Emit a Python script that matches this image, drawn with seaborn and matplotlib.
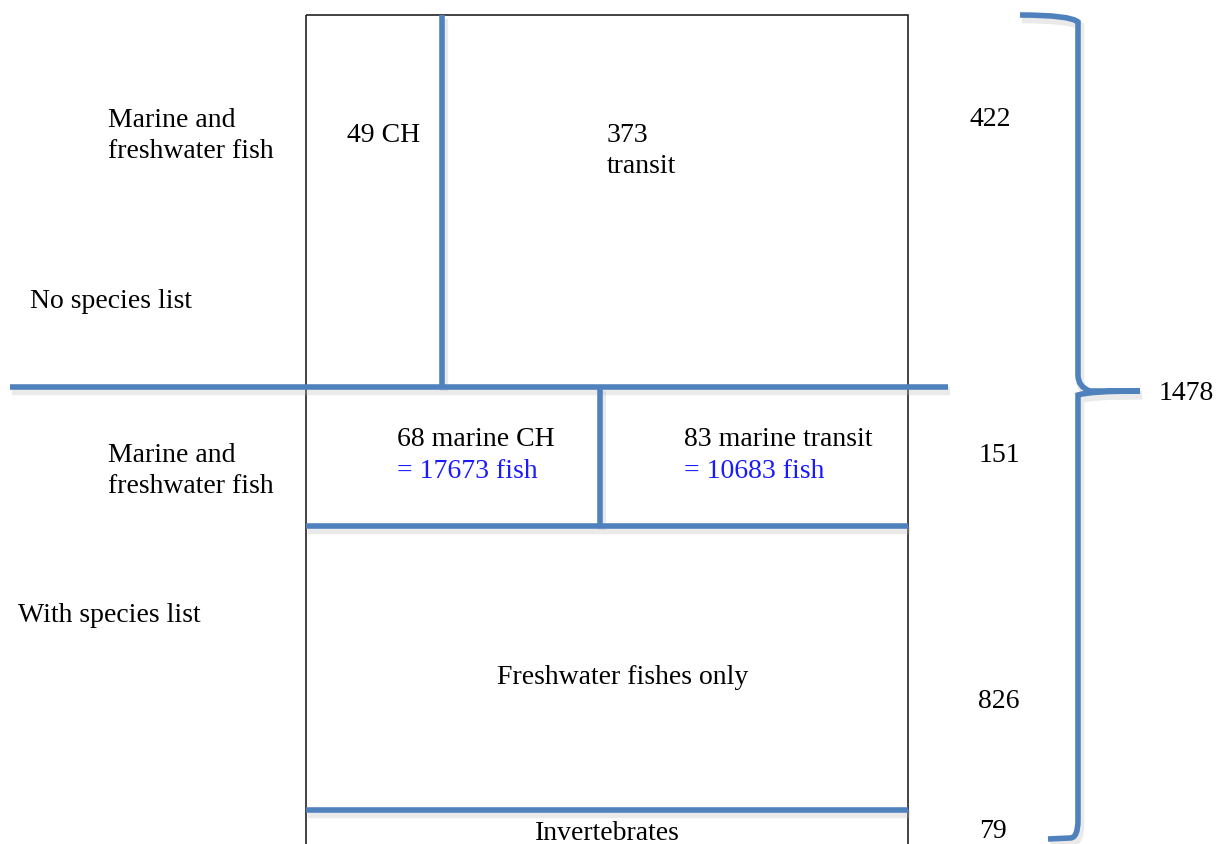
import matplotlib.pyplot as plt
import matplotlib.patheffects as pe
from matplotlib.path import Path
from matplotlib.patches import PathPatch, Rectangle
import seaborn as sns

# Data: counts per compartment
group_labels = ["No species list", "With species list"]
row_labels = ["Marine and\nfreshwater fish", "Marine and\nfreshwater fish"]
no_list_ch = 49
no_list_transit = 373
no_list_total = 422
marine_ch = 68
marine_transit = 83
marine_ch_fish = 17673
marine_transit_fish = 10683
marine_total = 151
freshwater_only = 826
invertebrates = 79
grand_total = 1478

sns.set_theme(style="white")
plt.rcParams['font.family'] = ['Liberation Serif', 'DejaVu Serif']

fig = plt.figure(figsize=(12.26, 8.44), dpi=100)
ax = fig.add_axes([0, 0, 1, 1])
ax.set_xlim(0, 1226)
ax.set_ylim(844, 0)
ax.axis('off')

blue = '#4F81BD'
shadow = [pe.SimpleLineShadow(offset=(1.5, -3), shadow_color='#bbbbbb', alpha=0.3, linewidth=6),
          pe.Normal()]
fs = 20

# outer box
ax.add_patch(Rectangle((306, 15), 602, 840, fill=False, edgecolor='#222222', lw=1.2))

def bar(x0, y0, x1, y1):
    ax.plot([x0, x1], [y0, y1], color=blue, lw=4, solid_capstyle='butt', path_effects=shadow)

bar(442, 15, 442, 387)
bar(10, 387, 948, 387)
bar(600, 387, 600, 526)
bar(306, 526, 908, 526)
bar(306, 810, 908, 810)

# brace
verts = [(1020, 15), (1070, 15), (1078, 22), (1078, 40),
         (1078, 375), (1078, 387), (1090, 391), (1140, 391),
         (1090, 391), (1078, 395), (1078, 410),
         (1078, 820), (1078, 838), (1070, 838), (1048, 839)]
codes = [Path.MOVETO, Path.CURVE3, Path.CURVE3, Path.LINETO,
         Path.LINETO, Path.CURVE3, Path.CURVE3, Path.LINETO,
         Path.CURVE3, Path.CURVE3, Path.LINETO,
         Path.LINETO, Path.CURVE3, Path.CURVE3, Path.LINETO]
ax.add_patch(PathPatch(Path(verts, codes), fill=False, edgecolor=blue, lw=4, path_effects=shadow))

def txt(x, y, s, color='black', ha='left'):
    ax.text(x, y + 3, s, fontsize=fs, color=color, ha=ha, va='center', linespacing=1.32)

# left labels
txt(108, 133, row_labels[0])
txt(30, 298, group_labels[0])
txt(108, 468, row_labels[1])
txt(18, 612, group_labels[1])

# compartments
txt(347, 132, f"{no_list_ch} CH")
txt(607, 148, f"{no_list_transit}\ntransit")
txt(397, 437, f"{marine_ch} marine CH")
txt(397, 468, f"= {marine_ch_fish} fish", color='#1a1aff')
txt(684, 437, f"{marine_transit} marine transit")
txt(684, 468, f"= {marine_transit_fish} fish", color='#1a1aff')
txt(623, 675, "Freshwater fishes only", ha='center')
txt(607, 830, "Invertebrates", ha='center')

# totals
txt(969, 116, str(no_list_total))
txt(979, 452, str(marine_total))
txt(978, 698, str(freshwater_only))
txt(979, 829, str(invertebrates))
txt(1159, 390, str(grand_total))

fig.savefig('out.png', dpi=100, facecolor='white')
